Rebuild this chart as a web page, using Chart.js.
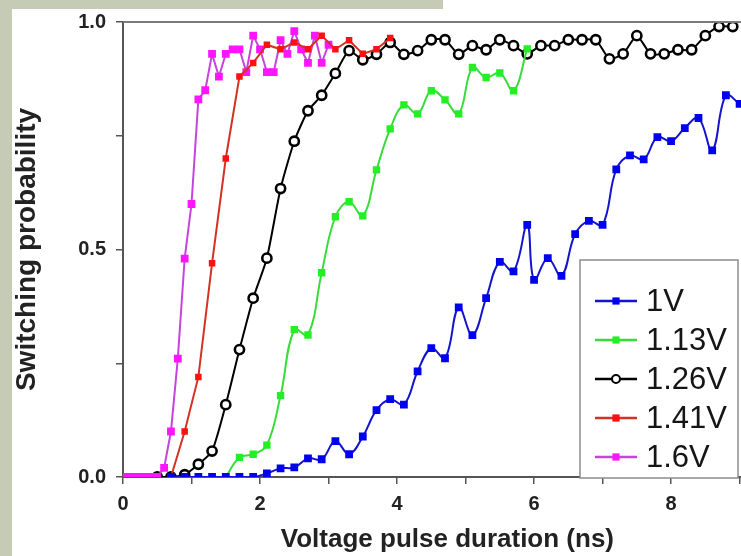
<!DOCTYPE html>
<html>
<head>
<meta charset="utf-8">
<script src="https://cdn.jsdelivr.net/npm/chart.js@4/dist/chart.umd.min.js"></script>
<style>
    html, body { margin: 0; padding: 0; background: #fff; overflow: hidden; width: 741px; height: 556px; }
    .band-left { position: absolute; left: 0; top: 0; width: 12px; height: 556px; background: #c6cbb6; }
    .band-top { position: absolute; left: 0; top: 0; width: 443px; height: 9px; background: #c6cbb6; }
    #chart { position: absolute; left: 0; top: 0; }
</style>
</head>
<body>
<div class="band-left"></div>
<div class="band-top"></div>
<canvas id="chart" width="779" height="556"></canvas>
<script>
// pulse durations (ns) and switching probabilities, one pair per voltage
const t1V = [0.7, 0.9, 1.1, 1.3, 1.5, 1.7, 1.9, 2.1, 2.3, 2.5, 2.7, 2.9, 3.1, 3.3, 3.5, 3.7, 3.9, 4.1, 4.3, 4.5,
    4.7, 4.9, 5.1, 5.3, 5.5, 5.7, 5.9, 6.0, 6.2, 6.4, 6.6, 6.8, 7.0, 7.2, 7.4, 7.6, 7.8, 8.0, 8.2, 8.4, 8.6, 8.8, 9.0];
const p1V = [0, 0, 0, 0, 0, 0, 0, 0.008, 0.019, 0.021, 0.041, 0.039, 0.079, 0.05, 0.089, 0.147, 0.171, 0.159, 0.232, 0.283,
    0.261, 0.373, 0.312, 0.393, 0.473, 0.452, 0.554, 0.433, 0.481, 0.442, 0.534, 0.563, 0.554, 0.676, 0.707, 0.698, 0.747, 0.738, 0.767, 0.789, 0.718, 0.839, 0.82];

const t113V = [1.5, 1.7, 1.9, 2.1, 2.3, 2.5, 2.7, 2.9, 3.1, 3.3, 3.5, 3.7, 3.9, 4.1, 4.3, 4.5, 4.7, 4.9, 5.1, 5.3, 5.5, 5.7, 5.9];
const p113V = [0, 0.043, 0.05, 0.07, 0.179, 0.324, 0.312, 0.449, 0.572, 0.605, 0.574, 0.675, 0.765, 0.818, 0.798, 0.849, 0.829, 0.798, 0.9, 0.878, 0.888, 0.849, 0.941];

const t126V = [0.5, 0.7, 0.9, 1.1, 1.3, 1.5, 1.7, 1.9, 2.1, 2.3, 2.5, 2.7, 2.9, 3.1, 3.3, 3.5, 3.7, 3.9, 4.1, 4.3, 4.5,
    4.7, 4.9, 5.1, 5.3, 5.5, 5.7, 5.9, 6.1, 6.3, 6.5, 6.7, 6.9, 7.1, 7.3, 7.5, 7.7, 7.9, 8.1, 8.3, 8.5, 8.7, 8.9];
const p126V = [0, 0, 0.005, 0.028, 0.057, 0.159, 0.28, 0.393, 0.481, 0.634, 0.738, 0.805, 0.839, 0.887, 0.937, 0.917, 0.929, 0.955, 0.929, 0.937, 0.961,
    0.961, 0.929, 0.948, 0.939, 0.961, 0.948, 0.93, 0.948, 0.948, 0.961, 0.961, 0.961, 0.919, 0.93, 0.97, 0.93, 0.93, 0.939, 0.939, 0.97, 0.99, 0.99];

const t141V = [0.7, 0.9, 1.1, 1.3, 1.5, 1.7, 1.9, 2.1, 2.3, 2.5, 2.7, 2.9, 3.1, 3.3, 3.5, 3.7, 3.9];
const p141V = [0, 0.10, 0.22, 0.47, 0.70, 0.88, 0.91, 0.95, 0.94, 0.955, 0.94, 0.97, 0.94, 0.96, 0.93, 0.94, 0.965];

const t16V = [0, 0.1, 0.2, 0.3, 0.4, 0.5, 0.6, 0.7, 0.8, 0.9, 1.0, 1.1, 1.2, 1.3, 1.4, 1.5, 1.6, 1.7, 1.8, 1.9, 2.0,
    2.1, 2.2, 2.3, 2.4, 2.5, 2.6, 2.7, 2.8, 2.9, 3.0];
const p16V = [0, 0, 0, 0, 0, 0, 0.02, 0.10, 0.26, 0.48, 0.60, 0.83, 0.85, 0.93, 0.88, 0.93, 0.94, 0.94, 0.89, 0.97, 0.94,
    0.89, 0.89, 0.96, 0.93, 0.98, 0.94, 0.91, 0.97, 0.91, 0.95];

const xTickLabels = ['0', '2', '4', '6', '8'];
const yTickLabels = ['0.0', '0.5', '1.0'];

const FONT = '"Liberation Sans", Arial, Helvetica, sans-serif';

const toPoints = (xs, ys) => xs.map((x, i) => ({ x: x, y: ys[i] }));

const series = [
    { label: '1V', data: toPoints(t1V, p1V), line: '#1414cc', mark: '#0000f0', style: 'rect', r: 5.5, tension: 0.4, order: 0 },
    { label: '1.13V', data: toPoints(t113V, p113V), line: '#38dc38', mark: '#22f022', style: 'rect', r: 5.2, tension: 0.4, order: 1 },
    { label: '1.26V', data: toPoints(t126V, p126V), line: '#000000', mark: '#000000', style: 'circle', r: 4.6, tension: 0.2, order: 4 },
    { label: '1.41V', data: toPoints(t141V, p141V), line: '#d23224', mark: '#ff1010', style: 'rect', r: 4.6, tension: 0, order: 2 },
    { label: '1.6V', data: toPoints(t16V, p16V), line: '#c444dc', mark: '#ff14ff', style: 'rect', r: 5.5, tension: 0, order: 3 }
];

// top frame line of the plot box
const topFrame = {
    id: 'topFrame',
    afterDraw(chart) {
        const { ctx, chartArea } = chart;
        ctx.save();
        ctx.strokeStyle = '#7a7a7a';
        ctx.lineWidth = 2;
        ctx.beginPath();
        ctx.moveTo(chartArea.left, chartArea.top);
        ctx.lineTo(chart.width, chartArea.top);
        ctx.stroke();
        ctx.restore();
    }
};

function drawMarker(ctx, ds, x, y, r) {
    ctx.beginPath();
    if (ds.pointStyle === 'circle') {
        ctx.arc(x, y, r, 0, Math.PI * 2);
        ctx.fillStyle = '#fff';
        ctx.fill();
        ctx.lineWidth = 2;
        ctx.strokeStyle = ds.pointBorderColor;
        ctx.stroke();
    } else {
        ctx.fillStyle = ds.pointBackgroundColor;
        ctx.fillRect(x - r, y - r, 2 * r, 2 * r);
    }
}

// legend box sitting inside the plot, bottom right
const boxLegend = {
    id: 'boxLegend',
    afterDatasetsDraw(chart) {
        const { ctx } = chart;
        const box = { left: 580, top: 260, right: 738, bottom: 478 };
        ctx.save();
        ctx.fillStyle = '#fff';
        ctx.fillRect(box.left, box.top, box.right - box.left, box.bottom - box.top);
        ctx.strokeStyle = '#8c8c8c';
        ctx.lineWidth = 1.5;
        ctx.strokeRect(box.left, box.top, box.right - box.left, box.bottom - box.top);

        ctx.font = '31px ' + FONT;
        ctx.textBaseline = 'middle';
        ctx.textAlign = 'left';
        chart.data.datasets.forEach((ds, i) => {
            const y = 301 + i * 39;
            ctx.strokeStyle = ds.borderColor;
            ctx.lineWidth = 2.5;
            ctx.beginPath();
            ctx.moveTo(595, y);
            ctx.lineTo(637, y);
            ctx.stroke();
            drawMarker(ctx, ds, 616, y, ds.pointStyle === 'circle' ? 4 : 3.6);
            ctx.fillStyle = '#151515';
            ctx.fillText(ds.label, 646, y + 1);
        });
        ctx.restore();
    }
};

new Chart(document.getElementById('chart'), {
    type: 'line',
    data: {
        datasets: series.map(s => ({
            label: s.label,
            data: s.data,
            borderColor: s.line,
            borderWidth: 2,
            backgroundColor: s.mark,
            pointStyle: s.style,
            pointRadius: s.r,
            pointBackgroundColor: s.style === 'circle' ? '#fff' : s.mark,
            pointBorderColor: s.mark,
            pointBorderWidth: s.style === 'circle' ? 2.6 : 0,
            tension: s.tension,
            order: s.order,
            fill: false
        }))
    },
    options: {
        responsive: false,
        animation: false,
        events: [],
        layout: { padding: { left: 0, top: 18, right: 0, bottom: 0 } },
        plugins: {
            legend: { display: false },
            tooltip: { enabled: false }
        },
        scales: {
            x: {
                type: 'linear',
                min: 0,
                max: 9.47,
                afterFit(scale) { scale.height = 79; },
                ticks: {
                    stepSize: 1,
                    includeBounds: false,
                    autoSkip: false,
                    maxRotation: 0,
                    padding: 8,
                    color: '#222',
                    font: { family: FONT, size: 20, weight: 'bold' },
                    callback: v => xTickLabels.includes(String(v)) ? String(v) : ''
                },
                grid: { drawOnChartArea: false, drawTicks: true, tickLength: 7, color: '#555', lineWidth: 1.5 },
                border: { display: true, color: '#555', width: 2 },
                title: {
                    display: true,
                    text: 'Voltage pulse duration (ns)',
                    color: '#222',
                    padding: { top: 0, bottom: 1 },
                    font: { family: FONT, size: 26, weight: 'bold' }
                }
            },
            y: {
                min: 0,
                max: 1,
                afterFit(scale) { scale.width = 123; },
                ticks: {
                    stepSize: 0.25,
                    padding: 10,
                    color: '#222',
                    font: { family: FONT, size: 20, weight: 'bold' },
                    callback: v => {
                        const s = v.toFixed(1);
                        return (yTickLabels.includes(s) && Math.abs(v * 2 - Math.round(v * 2)) < 1e-9) ? s : '';
                    }
                },
                grid: { drawOnChartArea: false, drawTicks: true, tickLength: 7, color: '#555', lineWidth: 1.5 },
                border: { display: true, color: '#555', width: 2 },
                title: {
                    display: true,
                    text: 'Switching probability',
                    color: '#222',
                    padding: { top: 10, bottom: 0 },
                    font: { family: FONT, size: 28, weight: 'bold' }
                }
            }
        }
    },
    plugins: [topFrame, boxLegend]
});
</script>
</body>
</html>
